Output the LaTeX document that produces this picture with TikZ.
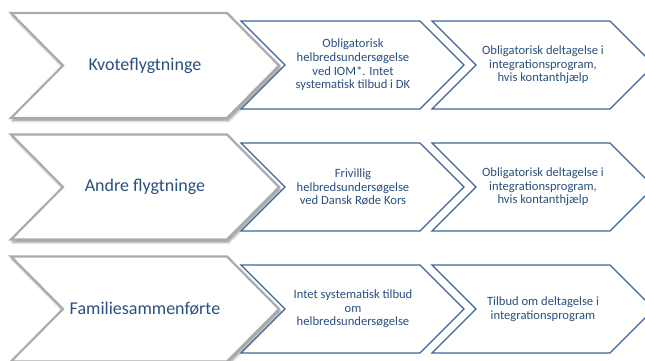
\documentclass[tikz,border=0pt]{standalone}
\usepackage{fontspec}
\setmainfont{Carlito}
\usetikzlibrary{shadows.blur}
\definecolor{frame}{HTML}{3B6796}
\definecolor{txt}{HTML}{2A5080}
\definecolor{greyrim}{HTML}{ABABAB}

\begin{document}
\begin{tikzpicture}[x=1pt,y=-1pt,
    bigchev/.style={fill=white,draw=greyrim,line width=2.2pt,
      blur shadow={shadow xshift=1.5pt,shadow yshift=-2.5pt,shadow blur steps=6,
        shadow blur radius=2.5pt,shadow opacity=45}},
    smallchev/.style={fill=white,draw=frame,line width=1.2pt},
    bigtxt/.style={text=txt,font=\fontsize{18}{22}\selectfont},
    smalltxt/.style={text=txt,font=\fontsize{12.6}{13.6}\selectfont,align=center}]

  \useasboundingbox (0,0) rectangle (645,360);
  \clip (0,0) rectangle (645,360);

  % Grey group chevrons, one per row.
  \draw[bigchev] (11,13) -- (227,13) -- (279,65.5) -- (227,118) -- (11,118) -- (63,65.5) -- cycle;
  \draw[bigchev] (11,134.5) -- (227,134.5) -- (279,187) -- (227,239.5) -- (11,239.5) -- (63,187) -- cycle;
  \draw[bigchev] (11,256.5) -- (227,256.5) -- (279,309) -- (227,361.5) -- (11,361.5) -- (63,309) -- cycle;

  \node[bigtxt] (kvote) at (145,65.5) {Kvoteflygtninge};
  \node[bigtxt] (andre) at (145,187) {Andre flygtninge};
  \node[bigtxt] (famil) at (145,309) {Familiesammenførte};

  % Blue step chevrons: health check, then integration programme.
  \draw[smallchev] (241,21) -- (420,21) -- (464,65) -- (420,109) -- (241,109) -- (285,65) -- cycle;
  \draw[smallchev] (432,21) -- (610,21) -- (654,65) -- (610,109) -- (432,109) -- (476,65) -- cycle;
  \draw[smallchev] (241,143) -- (420,143) -- (464,187) -- (420,231) -- (241,231) -- (285,187) -- cycle;
  \draw[smallchev] (432,143) -- (610,143) -- (654,187) -- (610,231) -- (432,231) -- (476,187) -- cycle;
  \draw[smallchev] (241,265) -- (420,265) -- (464,309) -- (420,353) -- (241,353) -- (285,309) -- cycle;
  \draw[smallchev] (432,265) -- (610,265) -- (654,309) -- (610,353) -- (432,353) -- (476,309) -- cycle;

  \node[smalltxt] (kvotehelb) at (353,65)
       {Obligatorisk\\helbredsundersøgelse\\ved IOM*. Intet\\systematisk tilbud i DK};
  \node[smalltxt] (kvoteint) at (543,65)
       {Obligatorisk deltagelse i\\integrationsprogram,\\hvis kontanthjælp};
  \node[smalltxt] (andrehelb) at (353,187)
       {Frivillig\\helbredsundersøgelse\\ved Dansk Røde Kors};
  \node[smalltxt] (andreint) at (543,187)
       {Obligatorisk deltagelse i\\integrationsprogram,\\hvis kontanthjælp};
  \node[smalltxt] (familhelb) at (353,309)
       {Intet systematisk tilbud\\om\\helbredsundersøgelse};
  \node[smalltxt] (familint) at (543,309)
       {Tilbud om deltagelse i\\integrationsprogram};
\end{tikzpicture}
\end{document}
